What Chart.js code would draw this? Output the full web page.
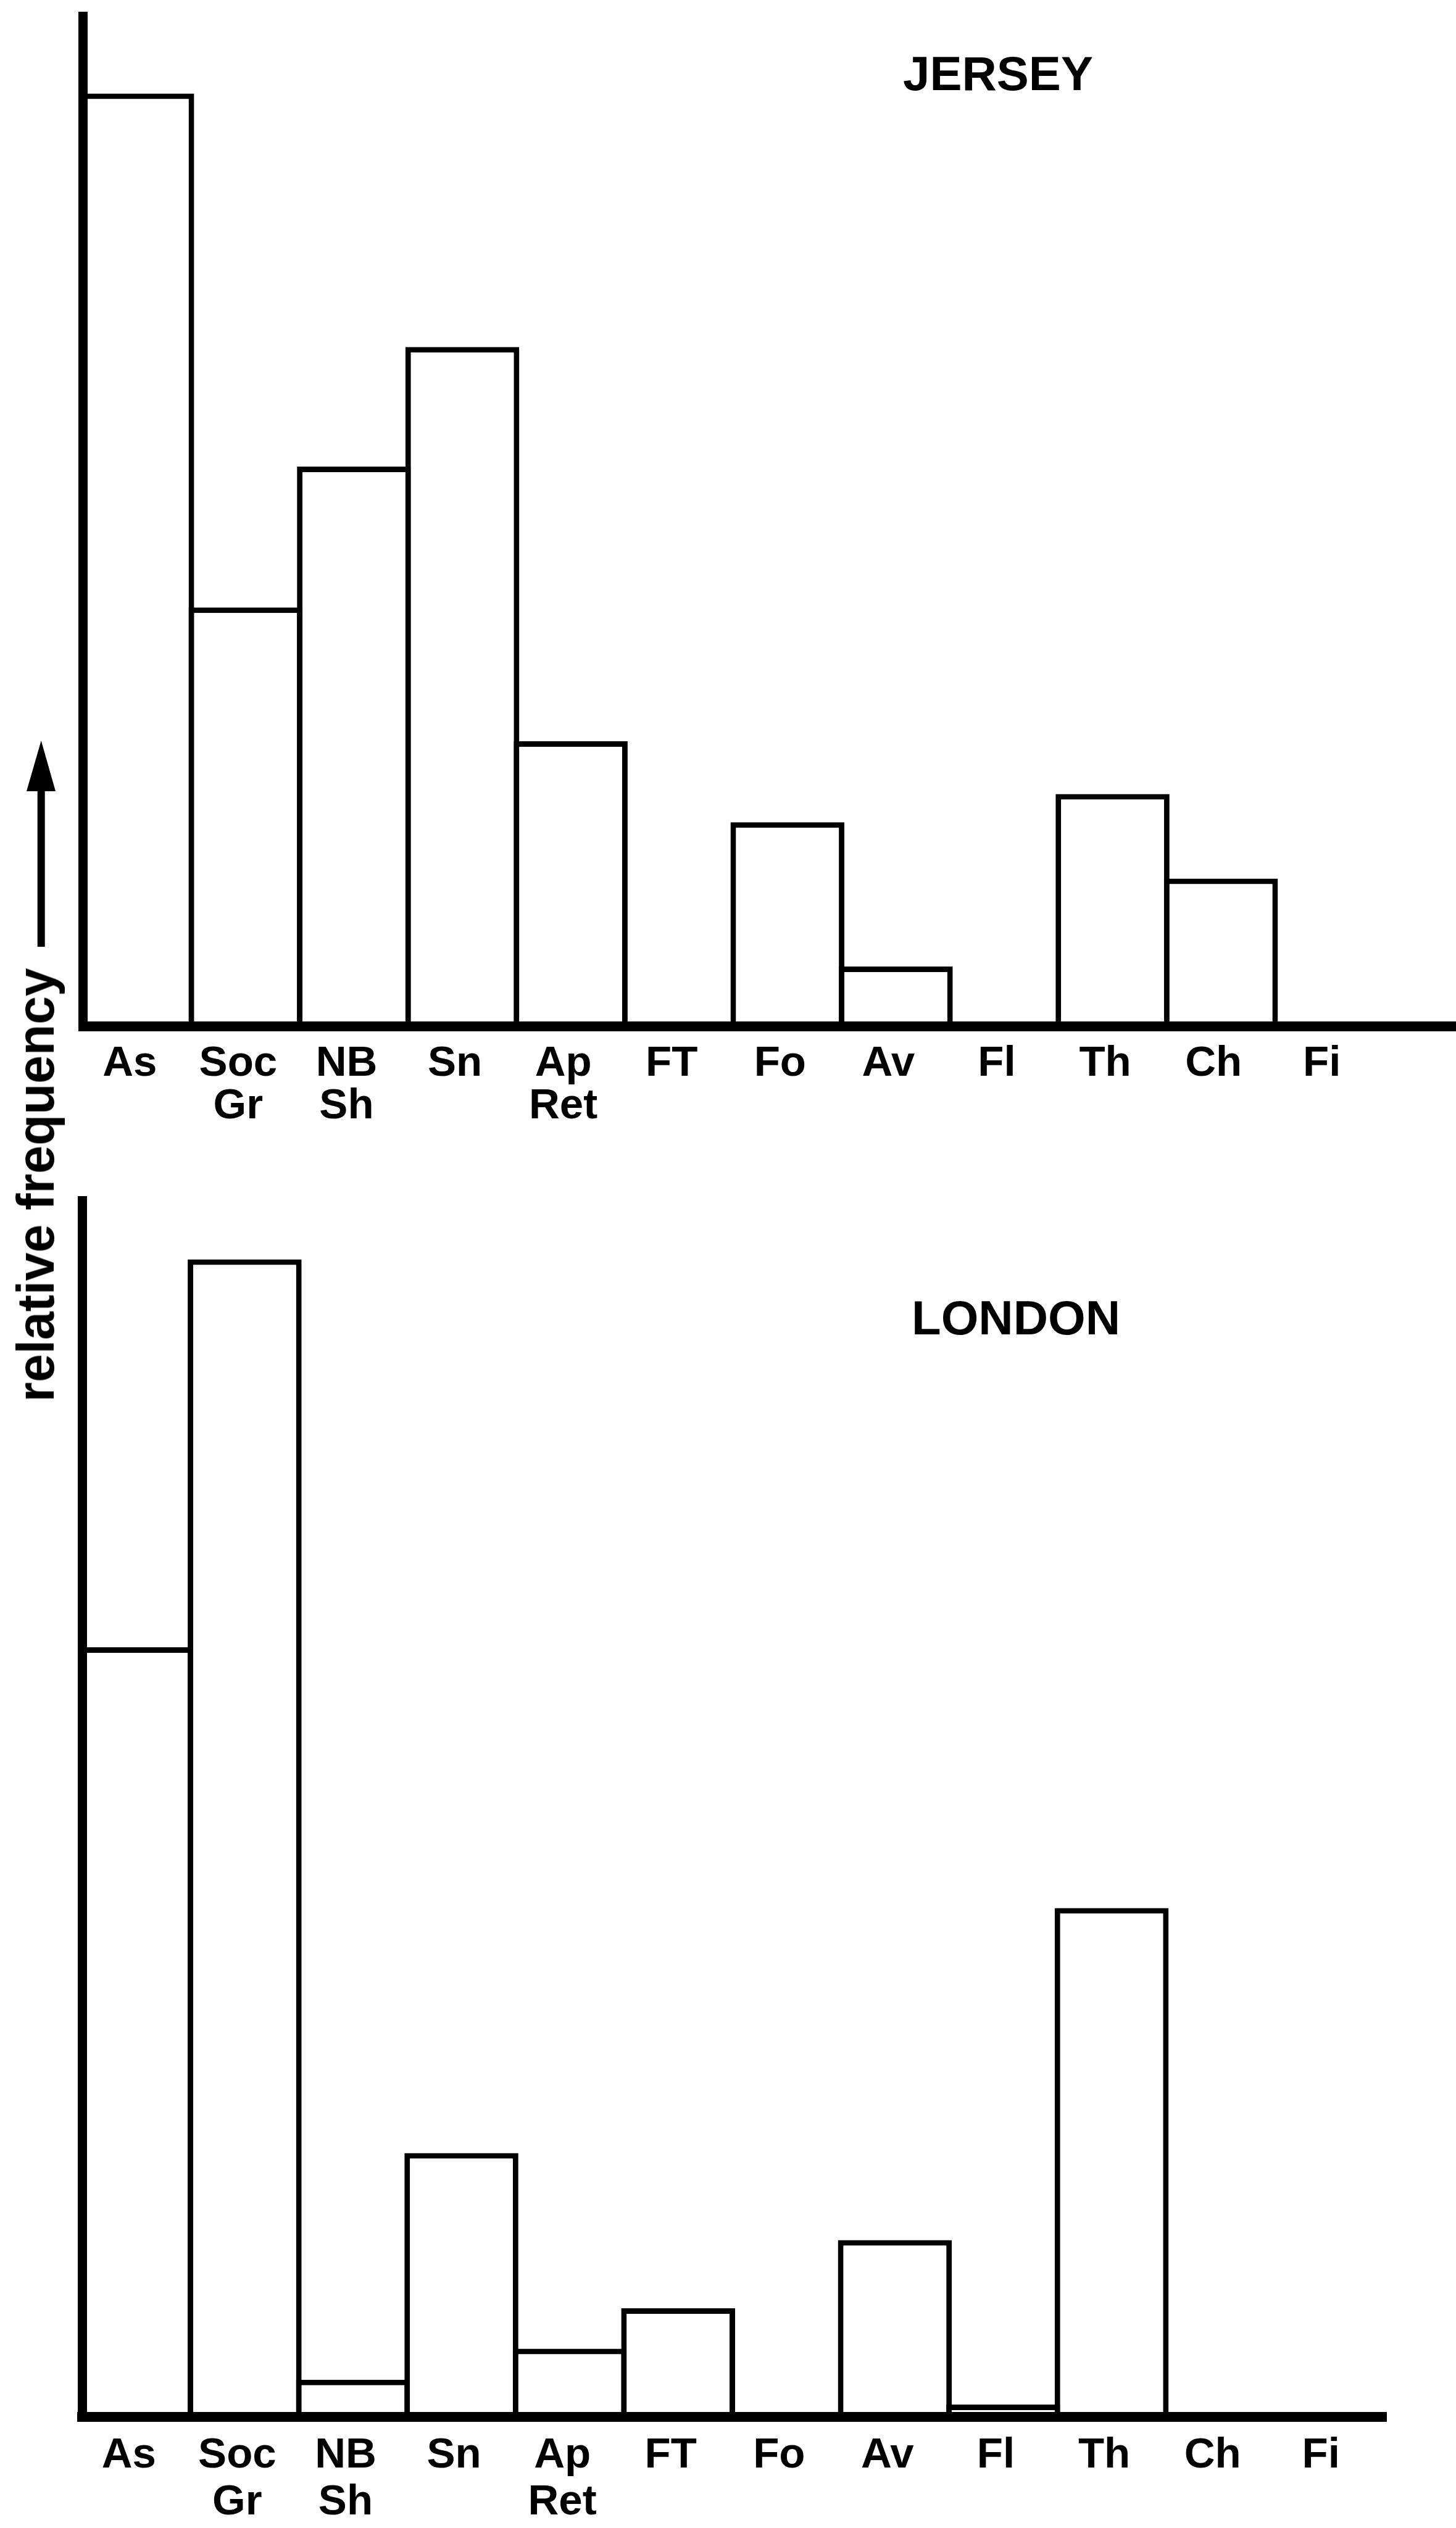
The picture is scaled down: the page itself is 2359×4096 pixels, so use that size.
<!DOCTYPE html>
<html>
<head>
<meta charset="utf-8">
<script src="https://cdn.jsdelivr.net/npm/chart.js@4.4.1/dist/chart.umd.min.js"></script>
<style>
  html, body { margin: 0; padding: 0; background: #fff; }
  body { width: 2359px; height: 4096px; position: relative; overflow: hidden; }
  canvas { position: absolute; left: 0; }
  #jersey { top: 0; }
  #london { top: 1900px; }
  #ylabel {
    position: absolute; left: 57px; top: 1920px;
    transform: translate(-50%, -50%) rotate(-90deg) scaleX(0.955);
    font: bold 86px 'Liberation Sans', Arial, sans-serif;
    line-height: 1; white-space: nowrap; color: #000;
  }
  #arrow { position: absolute; left: 0; top: 0; }
</style>
</head>
<body>
<canvas id="jersey" width="2359" height="1900"></canvas>
<canvas id="london" width="2359" height="2196"></canvas>
<div id="ylabel">relative frequency</div>
<svg id="arrow" width="120" height="1560" viewBox="0 0 120 1560">
  <polygon points="66.7,1200 43,1282 90,1282" fill="#000"/>
  <rect x="60.7" y="1275" width="12" height="259" fill="#000"/>
</svg>

<script>
// Behaviour categories (two-line names are split into arrays)
const categories = ['As', ['Soc', 'Gr'], ['NB', 'Sh'], 'Sn', ['Ap', 'Ret'], 'FT', 'Fo', 'Av', 'Fl', 'Th', 'Ch', 'Fi'];

// Relative frequency (%) of each category
const jerseyValues = [26.5, 11.9, 15.9, 19.3, 8.1, 0, 5.8, 1.7, 0, 6.6, 4.2, 0];
const londonValues = [24.8, 37.3, 1.2, 8.5, 2.2, 3.5, 0, 5.7, 0.4, 16.4, 0, 0];

// Value at the top end of each vertical axis
const jerseyMax = 28.7;
const londonMax = 39.2;

const FONT = "'Liberation Sans', Arial, sans-serif";

// Panel name written inside the plot
const panelTitle = {
  id: 'panelTitle',
  afterDraw(chart, args, opts) {
    const ctx = chart.ctx;
    ctx.save();
    ctx.font = 'bold ' + opts.size + 'px ' + FONT;
    ctx.fillStyle = '#000';
    ctx.textAlign = 'center';
    ctx.textBaseline = 'middle';
    ctx.fillText(opts.text, opts.x, opts.y);
    ctx.restore();
  }
};

// Optionally runs the baseline on past the last category to the canvas edge
const axisRun = {
  id: 'axisRun',
  afterDraw(chart, args, opts) {
    if (!opts.toEdge) return;
    const xs = chart.scales.x;
    const ctx = chart.ctx;
    ctx.save();
    ctx.strokeStyle = '#000';
    ctx.lineWidth = opts.width;
    ctx.beginPath();
    ctx.moveTo(chart.chartArea.right - 2, xs.top);
    ctx.lineTo(chart.width, xs.top);
    ctx.stroke();
    ctx.restore();
  }
};

function makeChart(id, values, max, cfg) {
  return new Chart(document.getElementById(id), {
    type: 'bar',
    data: {
      labels: categories,
      datasets: [{
        data: values,
        backgroundColor: '#fff',
        borderColor: '#000',
        borderWidth: 9,
        borderSkipped: 'start',
        barPercentage: 1.0513,
        categoryPercentage: 1,
        inflateAmount: 0
      }]
    },
    options: {
      responsive: false,
      animation: false,
      devicePixelRatio: 1,
      layout: { padding: cfg.padding },
      plugins: {
        legend: { display: false },
        tooltip: { enabled: false },
        title: { display: false },
        panelTitle: cfg.title,
        axisRun: cfg.axisRun
      },
      scales: {
        x: {
          type: 'category',
          offset: true,
          grid: { display: false, drawTicks: false, lineWidth: 14 },
          border: { display: true, color: '#000', width: 16, z: 1 },
          ticks: {
            color: '#000',
            font: { family: FONT, weight: 'bold', size: 69, lineHeight: cfg.lineHeight },
            padding: cfg.tickPad,
            labelOffset: -12,
            autoSkip: false,
            maxRotation: 0,
            minRotation: 0
          },
          afterFit(s) { s.height = cfg.xHeight; }
        },
        y: {
          min: 0,
          max: max,
          grid: { display: false, drawTicks: false },
          border: { display: true, color: '#000', width: 15, z: 1 },
          ticks: { display: false },
          afterFit(s) { s.width = 0; }
        }
      }
    },
    plugins: [panelTitle, axisRun]
  });
}

makeChart('jersey', jerseyValues, jerseyMax, {
  padding: { left: 134.5, right: 117.5, top: 26, bottom: 0 },
  xHeight: 237,
  tickPad: 26.5,
  lineHeight: '69px',
  title: { text: 'JERSEY', size: 78, x: 1617, y: 124 },
  axisRun: { toEdge: true, width: 16 }
});

makeChart('london', londonValues, londonMax, {
  padding: { left: 133, right: 119, top: 45, bottom: 0 },
  xHeight: 180,
  tickPad: 25,
  lineHeight: '76px',
  title: { text: 'LONDON', size: 78, x: 1646, y: 240 },
  axisRun: { toEdge: false, width: 16 }
});
</script>
</body>
</html>
